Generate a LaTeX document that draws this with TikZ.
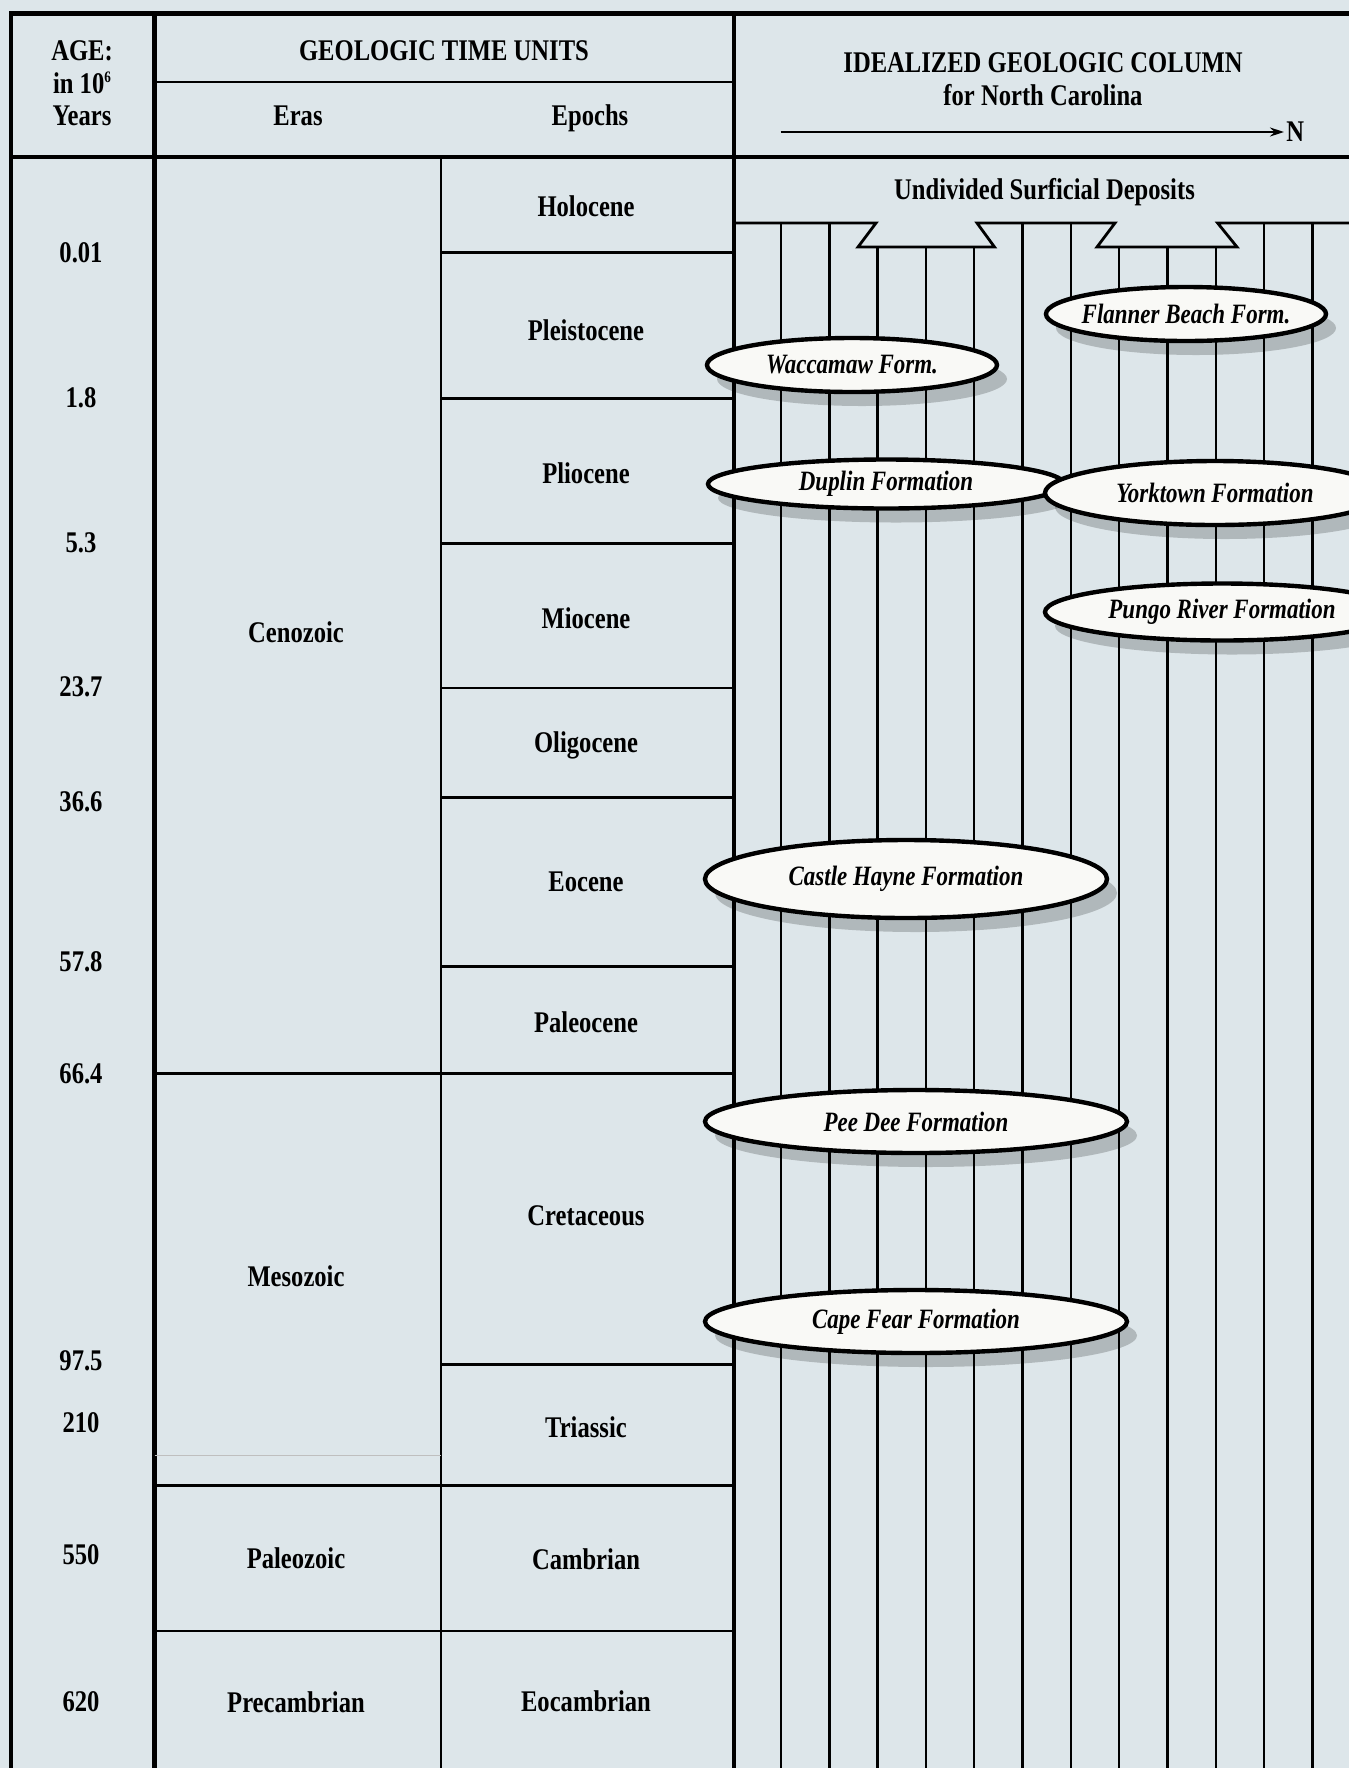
\documentclass[tikz,border=0pt]{standalone}
\usepackage{fontspec}
\setmainfont{Liberation Serif}[FakeStretch=0.82]
\usetikzlibrary{shapes.geometric,shadows,arrows.meta}
\definecolor{paper}{RGB}{221,230,234}
\definecolor{lens}{RGB}{249,249,246}

\begin{document}
\begin{tikzpicture}[x=0.5pt,y=-0.5pt]
    \tikzstyle{frame}=[line width=2.2pt]
    \tikzstyle{rule}=[line width=1.4pt]
    \tikzstyle{bed}=[line width=1.2pt]
    \tikzstyle{unit}=[font=\bfseries\fontsize{15}{16.3}\selectfont, inner sep=1pt, align=center]
    \tikzstyle{formation}=[ellipse, draw, line width=2.2pt, fill=lens, inner xsep=-14pt, inner ysep=0pt,
        font=\bfseries\itshape\fontsize{14}{16}\selectfont,
        drop shadow={shadow xshift=5pt, shadow yshift=-7pt, fill=black, opacity=0.2}]

    \useasboundingbox (0,0) rectangle (1349,1768);
    \clip (0,0) rectangle (1349,1768);
    \fill [paper] (0,0) rectangle (1349,1768);

    \draw [frame] (11,1768) -- (11,13.5) -- (1349,13.5);
    \draw [frame] (11,157) -- (1349,157);
    \draw [frame] (154.5,13.5) -- (154.5,1768);
    \draw [frame] (734,13.5) -- (734,1768);
    \draw [rule] (154.5,82) -- (734,82);
    \draw [rule] (441,157) -- (441,1768);

    \draw [rule] (441,252.7) -- (734,252.7);
    \draw [rule] (441,398.2) -- (734,398.2);
    \draw [rule] (441,543.7) -- (734,543.7);
    \draw [rule] (441,688) -- (734,688);
    \draw [rule] (441,797.5) -- (734,797.5);
    \draw [rule] (441,966.6) -- (734,966.6);
    \draw [rule] (154.5,1073.8) -- (734,1073.8);
    \draw [rule] (441,1364.8) -- (734,1364.8);
    \draw [rule] (154.5,1485.5) -- (734,1485.5);
    \draw [rule] (154.5,1631) -- (734,1631);
    \draw [black!25, line width=0.4pt] (154.5,1455) -- (441,1455);

    \node [unit] (agehead) at (82,83.5) {AGE:\\in 10\raisebox{0.75ex}{\fontsize{8}{8}\selectfont 6}\\Years};
    \node [unit] (unitshead) at (444,51) {GEOLOGIC TIME UNITS};
    \node [unit] (erashead) at (298,116) {Eras};
    \node [unit] (epochshead) at (590,118) {Epochs};
    \node [unit] (colhead) at (1043,79) {IDEALIZED GEOLOGIC COLUMN\\for North Carolina};
    \coordinate (tail) at (780.6,132);
    \node [unit, anchor=west] (north) at (1284,132) {N};
    \draw [-{Stealth[length=7pt,width=4.5pt]}, line width=0.9pt] (tail) -- (north);

    \node [unit] (t1) at (81,252.7) {0.01};
    \node [unit] (t2) at (81,398) {1.8};
    \node [unit] (t3) at (81,542.5) {5.3};
    \node [unit] (t4) at (81,687) {23.7};
    \node [unit] (t5) at (81,802) {36.6};
    \node [unit] (t6) at (81,962) {57.8};
    \node [unit] (t7) at (81,1074) {66.4};
    \node [unit] (t8) at (81,1361) {97.5};
    \node [unit] (t9) at (81,1423) {210};
    \node [unit] (t10) at (81,1555) {550};
    \node [unit] (t11) at (81,1702) {620};

    \node [unit] (ceno) at (296,632) {Cenozoic};
    \node [unit] (meso) at (296,1276) {Mesozoic};
    \node [unit] (paleo) at (296,1558) {Paleozoic};
    \node [unit] (precam) at (296,1702) {Precambrian};

    \node [unit] (holo) at (586,206) {Holocene};
    \node [unit] (pleis) at (586,330) {Pleistocene};
    \node [unit] (plio) at (586,473) {Pliocene};
    \node [unit] (mio) at (586,618) {Miocene};
    \node [unit] (oligo) at (586,745) {Oligocene};
    \node [unit] (eo) at (586,882) {Eocene};
    \node [unit] (paleoc) at (586,1022) {Paleocene};
    \node [unit] (creta) at (586,1216) {Cretaceous};
    \node [unit] (trias) at (586,1427) {Triassic};
    \node [unit] (camb) at (586,1559) {Cambrian};
    \node [unit] (eocamb) at (586,1701) {Eocambrian};

    \node [unit] (surficial) at (1044.5,192) {Undivided Surficial Deposits};
    \draw [rule] (734,223) -- (876,223) -- (858,247) -- (994.5,247) -- (977,223)
        -- (1115,223) -- (1097,247) -- (1237,247) -- (1217.6,223) -- (1349,223);

    \draw [bed] (781,223) -- (781,1768);
    \draw [bed] (829.3,223) -- (829.3,1768);
    \draw [bed] (877.6,247) -- (877.6,1768);
    \draw [bed] (925.9,247) -- (925.9,1768);
    \draw [bed] (974.2,247) -- (974.2,1768);
    \draw [bed] (1022.5,223) -- (1022.5,1768);
    \draw [bed] (1070.8,223) -- (1070.8,1768);
    \draw [bed] (1119.1,247) -- (1119.1,1768);
    \draw [bed] (1167.4,247) -- (1167.4,1768);
    \draw [bed] (1215.7,247) -- (1215.7,1768);
    \draw [bed] (1264,223) -- (1264,1768);
    \draw [bed] (1312.3,223) -- (1312.3,1768);

    \node [formation, minimum width=140pt, minimum height=27pt] (flanner) at (1186,314) {Flanner Beach Form.};
    \node [formation, minimum width=145pt, minimum height=27pt] (waccamaw) at (852,365) {Waccamaw Form.};
    \node [formation, minimum width=178pt, minimum height=24.5pt] (duplin) at (886,484) {Duplin Formation};
    \node [formation, minimum width=170pt, minimum height=32pt] (yorktown) at (1215,493) {Yorktown Formation};
    \node [formation, minimum width=177pt, minimum height=28.5pt] (pungo) at (1222,612) {Pungo River Formation};
    \node [formation, minimum width=201pt, minimum height=39pt] (castle) at (906,879) {Castle Hayne Formation};
    \node [formation, minimum width=211pt, minimum height=31.5pt] (peedee) at (916,1121.5) {Pee Dee Formation};
    \node [formation, minimum width=211pt, minimum height=31.5pt] (capefear) at (916,1321.5) {Cape Fear Formation};
\end{tikzpicture}
\end{document}
